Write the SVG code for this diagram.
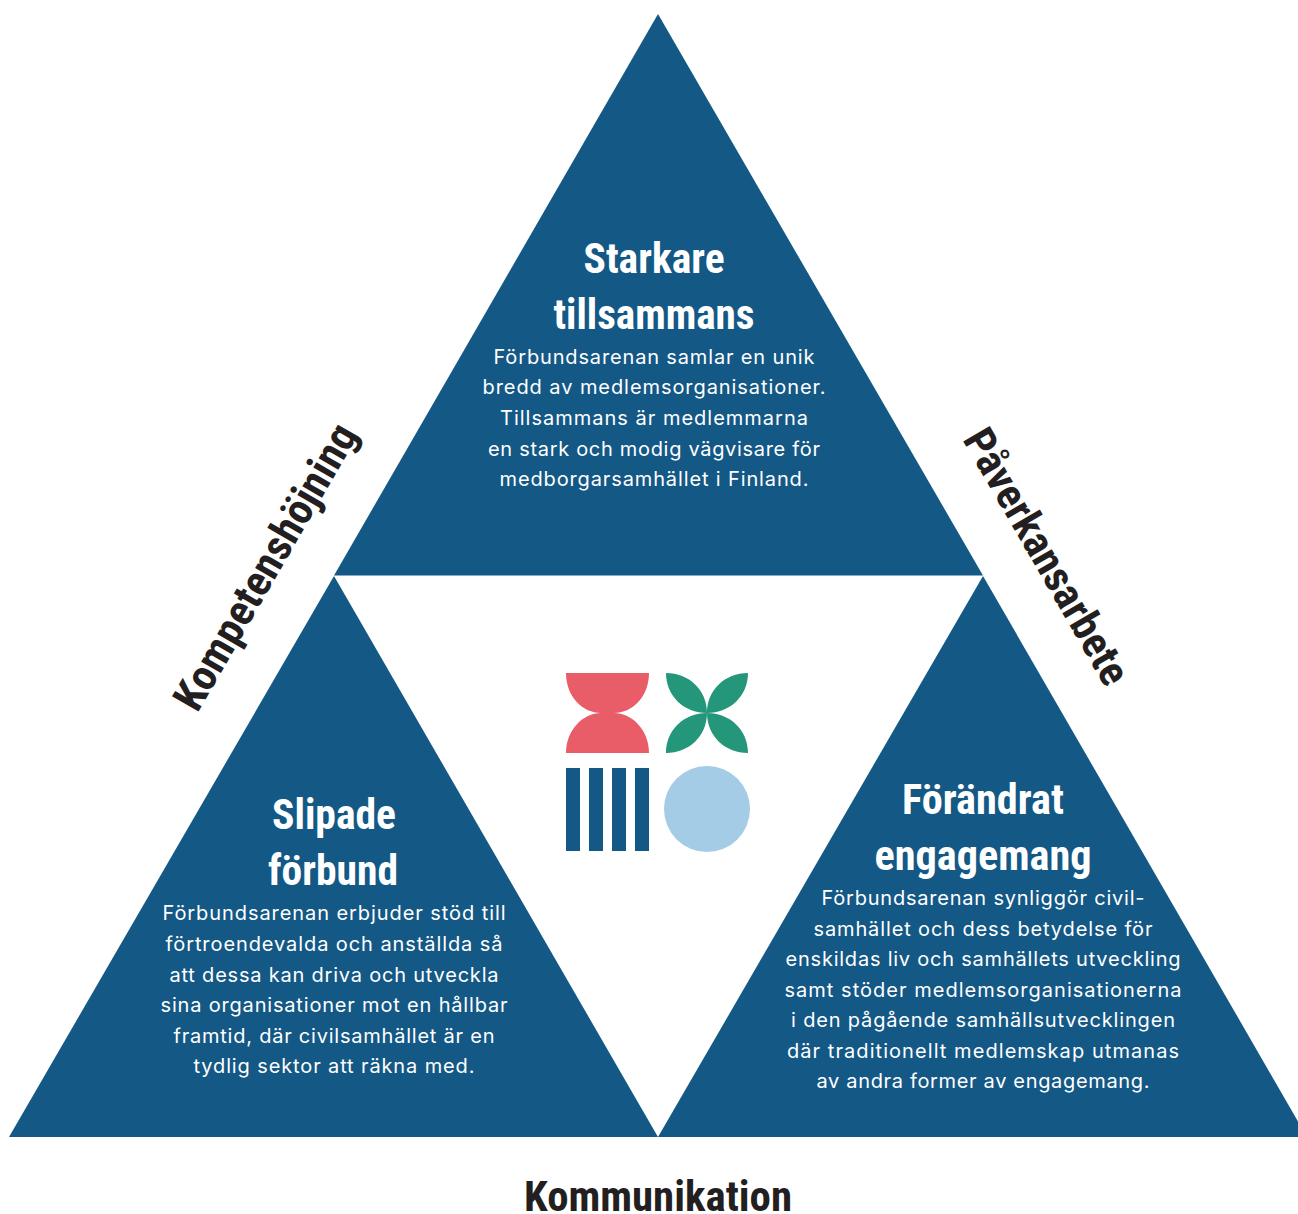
<svg xmlns="http://www.w3.org/2000/svg" width="1298" height="1214" viewBox="0 0 1298 1214">
<style>
.tri{fill:#145886}
.h{font-family:"Roboto Condensed","Liberation Sans Narrow","Liberation Sans",sans-serif;font-weight:700;font-size:43px;fill:#fff;text-anchor:middle}
.b{font-family:"Inter","Noto Sans",sans-serif;font-size:20px;fill:#fff;text-anchor:middle}
.s{font-family:"Roboto Condensed","Liberation Sans Narrow","Liberation Sans",sans-serif;font-weight:700;font-size:43px;fill:#231f20;text-anchor:middle}
</style>
<rect width="1298" height="1214" fill="#fff"/>
<g id="top"><polygon class="tri" points="658,14 983,575.5 334,575.5"/>
<text class="h" x="654" y="273" textLength="141" lengthAdjust="spacingAndGlyphs">Starkare</text>
<text class="h" x="654" y="329" textLength="201" lengthAdjust="spacingAndGlyphs">tillsammans</text>
<text class="b" x="654" y="364" textLength="321">Förbundsarenan samlar en unik</text>
<text class="b" x="654" y="394" textLength="343">bredd av medlemsorganisationer.</text>
<text class="b" x="654" y="425" textLength="308">Tillsammans är medlemmarna</text>
<text class="b" x="654" y="456" textLength="332">en stark och modig vägvisare för</text>
<text class="b" x="654" y="486" textLength="309">medborgarsamhället i Finland.</text></g>
<g id="left"><polygon class="tri" points="334,576 658,1137 9,1137"/>
<text class="h" x="334" y="829" textLength="124" lengthAdjust="spacingAndGlyphs">Slipade</text>
<text class="h" x="333" y="885" textLength="130" lengthAdjust="spacingAndGlyphs">förbund</text>
<text class="b" x="334" y="920" textLength="343">Förbundsarenan erbjuder stöd till</text>
<text class="b" x="334" y="951" textLength="337">förtroendevalda och anställda så</text>
<text class="b" x="334" y="982" textLength="329">att dessa kan driva och utveckla</text>
<text class="b" x="334" y="1012" textLength="347">sina organisationer mot en hållbar</text>
<text class="b" x="334" y="1043" textLength="321">framtid, där civilsamhället är en</text>
<text class="b" x="334" y="1073" textLength="281">tydlig sektor att räkna med.</text></g>
<g id="right"><polygon class="tri" points="983,576 1307,1137 658,1137"/>
<text class="h" x="983" y="814" textLength="162" lengthAdjust="spacingAndGlyphs">Förändrat</text>
<text class="h" x="983" y="870" textLength="217" lengthAdjust="spacingAndGlyphs">engagemang</text>
<text class="b" x="983" y="905" textLength="323">Förbundsarenan synliggör civil-</text>
<text class="b" x="983" y="936" textLength="339">samhället och dess betydelse för</text>
<text class="b" x="983" y="966" textLength="395">enskildas liv och samhällets utveckling</text>
<text class="b" x="983" y="997" textLength="397">samt stöder medlemsorganisationerna</text>
<text class="b" x="983" y="1027" textLength="384">i den pågående samhällsutvecklingen</text>
<text class="b" x="983" y="1058" textLength="392">där traditionellt medlemskap utmanas</text>
<text class="b" x="983" y="1088" textLength="333">av andra former av engagemang.</text></g>
<g id="logo">
<path d="M566,673H649C649,697 632,713 614,713C632,713 649,730 649,753H566C566,730 583,713 601,713C583,713 566,697 566,673Z" fill="#e85d68"/>
<path d="M707,713C707,690 725,673 748,673C748,696 730,713 707,713C730,713 748,730 748,753C725,753 707,736 707,713C707,736 689,753 666,753C666,730 684,713 707,713C684,713 666,696 666,673C689,673 707,690 707,713Z" fill="#24967a"/>
<g fill="#145886"><rect x="566" y="768" width="14" height="83"/><rect x="589" y="768" width="14" height="83"/><rect x="612" y="768" width="14" height="83"/><rect x="635" y="768" width="14" height="83"/></g>
<circle cx="707" cy="809" r="43" fill="#a4cce6"/></g>
<g id="connectors"/>
<g id="side-labels">
<text class="s" transform="translate(278,574) rotate(-60)" textLength="323" lengthAdjust="spacingAndGlyphs">Kompetenshöjning</text>
<text class="s" transform="translate(1034,564) rotate(60)" textLength="288" lengthAdjust="spacingAndGlyphs">Påverkansarbete</text>
<text class="s" x="658" y="1211" textLength="268" lengthAdjust="spacingAndGlyphs">Kommunikation</text>
</g>
</svg>
